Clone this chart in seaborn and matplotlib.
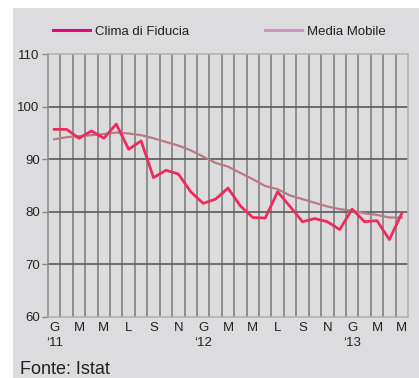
import numpy as np
import pandas as pd
import seaborn as sns
import matplotlib
matplotlib.use("Agg")
import matplotlib.pyplot as plt
from matplotlib.lines import Line2D
from matplotlib.patches import Rectangle

# Monthly series, January 2011 - May 2013
months = ["G", "F", "M", "A", "M", "G", "L", "A", "S", "O", "N", "D"] * 2 + ["G", "F", "M", "A", "M"]
years = {0: "\u201811", 12: "\u201812", 24: "\u201813"}

clima = [95.7, 95.7, 94.0, 95.4, 94.0, 96.7, 91.9, 93.5, 86.5, 87.9,
         87.2, 83.8, 81.6, 82.4, 84.5, 81.1, 78.9, 78.8, 83.8, 81.0,
         78.1, 78.7, 78.1, 76.6, 80.5, 78.1, 78.3, 74.7, 79.7]
media = [93.8, 94.2, 94.4, 94.6, 94.8, 95.1, 94.9, 94.6, 94.0, 93.3,
         92.6, 91.7, 90.5, 89.3, 88.6, 87.4, 86.2, 84.9, 84.3, 83.1,
         82.4, 81.7, 81.0, 80.5, 80.2, 79.7, 79.4, 78.9, 78.9]

yticks = [60, 70, 80, 90, 100, 110]

n = len(clima)
df = pd.DataFrame({
    "mese": np.arange(n),
    "Clima di Fiducia": clima,
    "Media Mobile": media,
})

BG = "#dcdcdf"
PINK = "#ee2c5c"
ROSE = "#b97a82"
LEG_PINK = "#e8067f"
LEG_ROSE = "#d391c2"

plt.rcParams["font.family"] = ["Liberation Sans", "DejaVu Sans"]

fig = plt.figure(figsize=(4.19, 3.78), dpi=100, facecolor="white")
fig.patches.append(Rectangle((13 / 419, 0), 1, (378 - 8) / 378,
                             transform=fig.transFigure, facecolor=BG,
                             edgecolor="none", zorder=-10))
ax = fig.add_axes([48 / 419, 61.3 / 378, 360 / 419, 262.4 / 378])
ax.set_facecolor(BG)

# month grid: one cell per month
for b in np.arange(0.5, n - 1, 1.0):
    ax.axvline(b, color="#808080", lw=1.2, zorder=1)
for v in [70, 80, 90, 100]:
    ax.axhline(v, color="#5a5a5a", lw=1.2, zorder=1.5)

sns.lineplot(data=df, x="mese", y="Media Mobile", ax=ax, color=ROSE,
             lw=1.6, zorder=3, legend=False)
sns.lineplot(data=df, x="mese", y="Clima di Fiducia", ax=ax, color=PINK,
             lw=2.0, zorder=4, legend=False)

ax.set_xlim(-0.5, n - 0.5)
ax.set_ylim(60, 110)
ax.set_yticks(yticks)
ax.set_yticklabels([str(t) for t in yticks], fontsize=9.5, color="#222222")

xt = list(range(0, n, 2))
xl = [months[i] + ("\n" + years[i] if i in years else "") for i in xt]
ax.set_xticks(xt)
ax.set_xticklabels(xl, fontsize=9.5, color="#222222", linespacing=1.25)
ax.tick_params(axis="x", length=0, pad=4)
ax.tick_params(axis="y", length=4, width=1, color="#8a8a8a", pad=2)
ax.set_xlabel("")
ax.set_ylabel("")

for side in ["top", "right", "bottom"]:
    ax.spines[side].set_color("#b0b0b0")
    ax.spines[side].set_linewidth(1.1)
ax.spines["left"].set_color("#8a8a8a")
ax.spines["left"].set_linewidth(1.1)

handles = [Line2D([], [], color=LEG_PINK, lw=2.2),
           Line2D([], [], color=LEG_ROSE, lw=2.2)]
fig.legend(handles, ["Clima di Fiducia", "Media Mobile"],
           loc="center left", bbox_to_anchor=(53 / 419, 1 - 32 / 378),
           ncol=2, frameon=False, fontsize=9.5, handlelength=2.8,
           handletextpad=0.4, columnspacing=5.7, labelcolor="#222222",
           borderpad=0, borderaxespad=0)

fig.text(20 / 419, 1 - 369 / 378, "Fonte: Istat", fontsize=13,
         color="#222222", va="center", ha="left")

fig.savefig("out.png", dpi=100, facecolor="white")
